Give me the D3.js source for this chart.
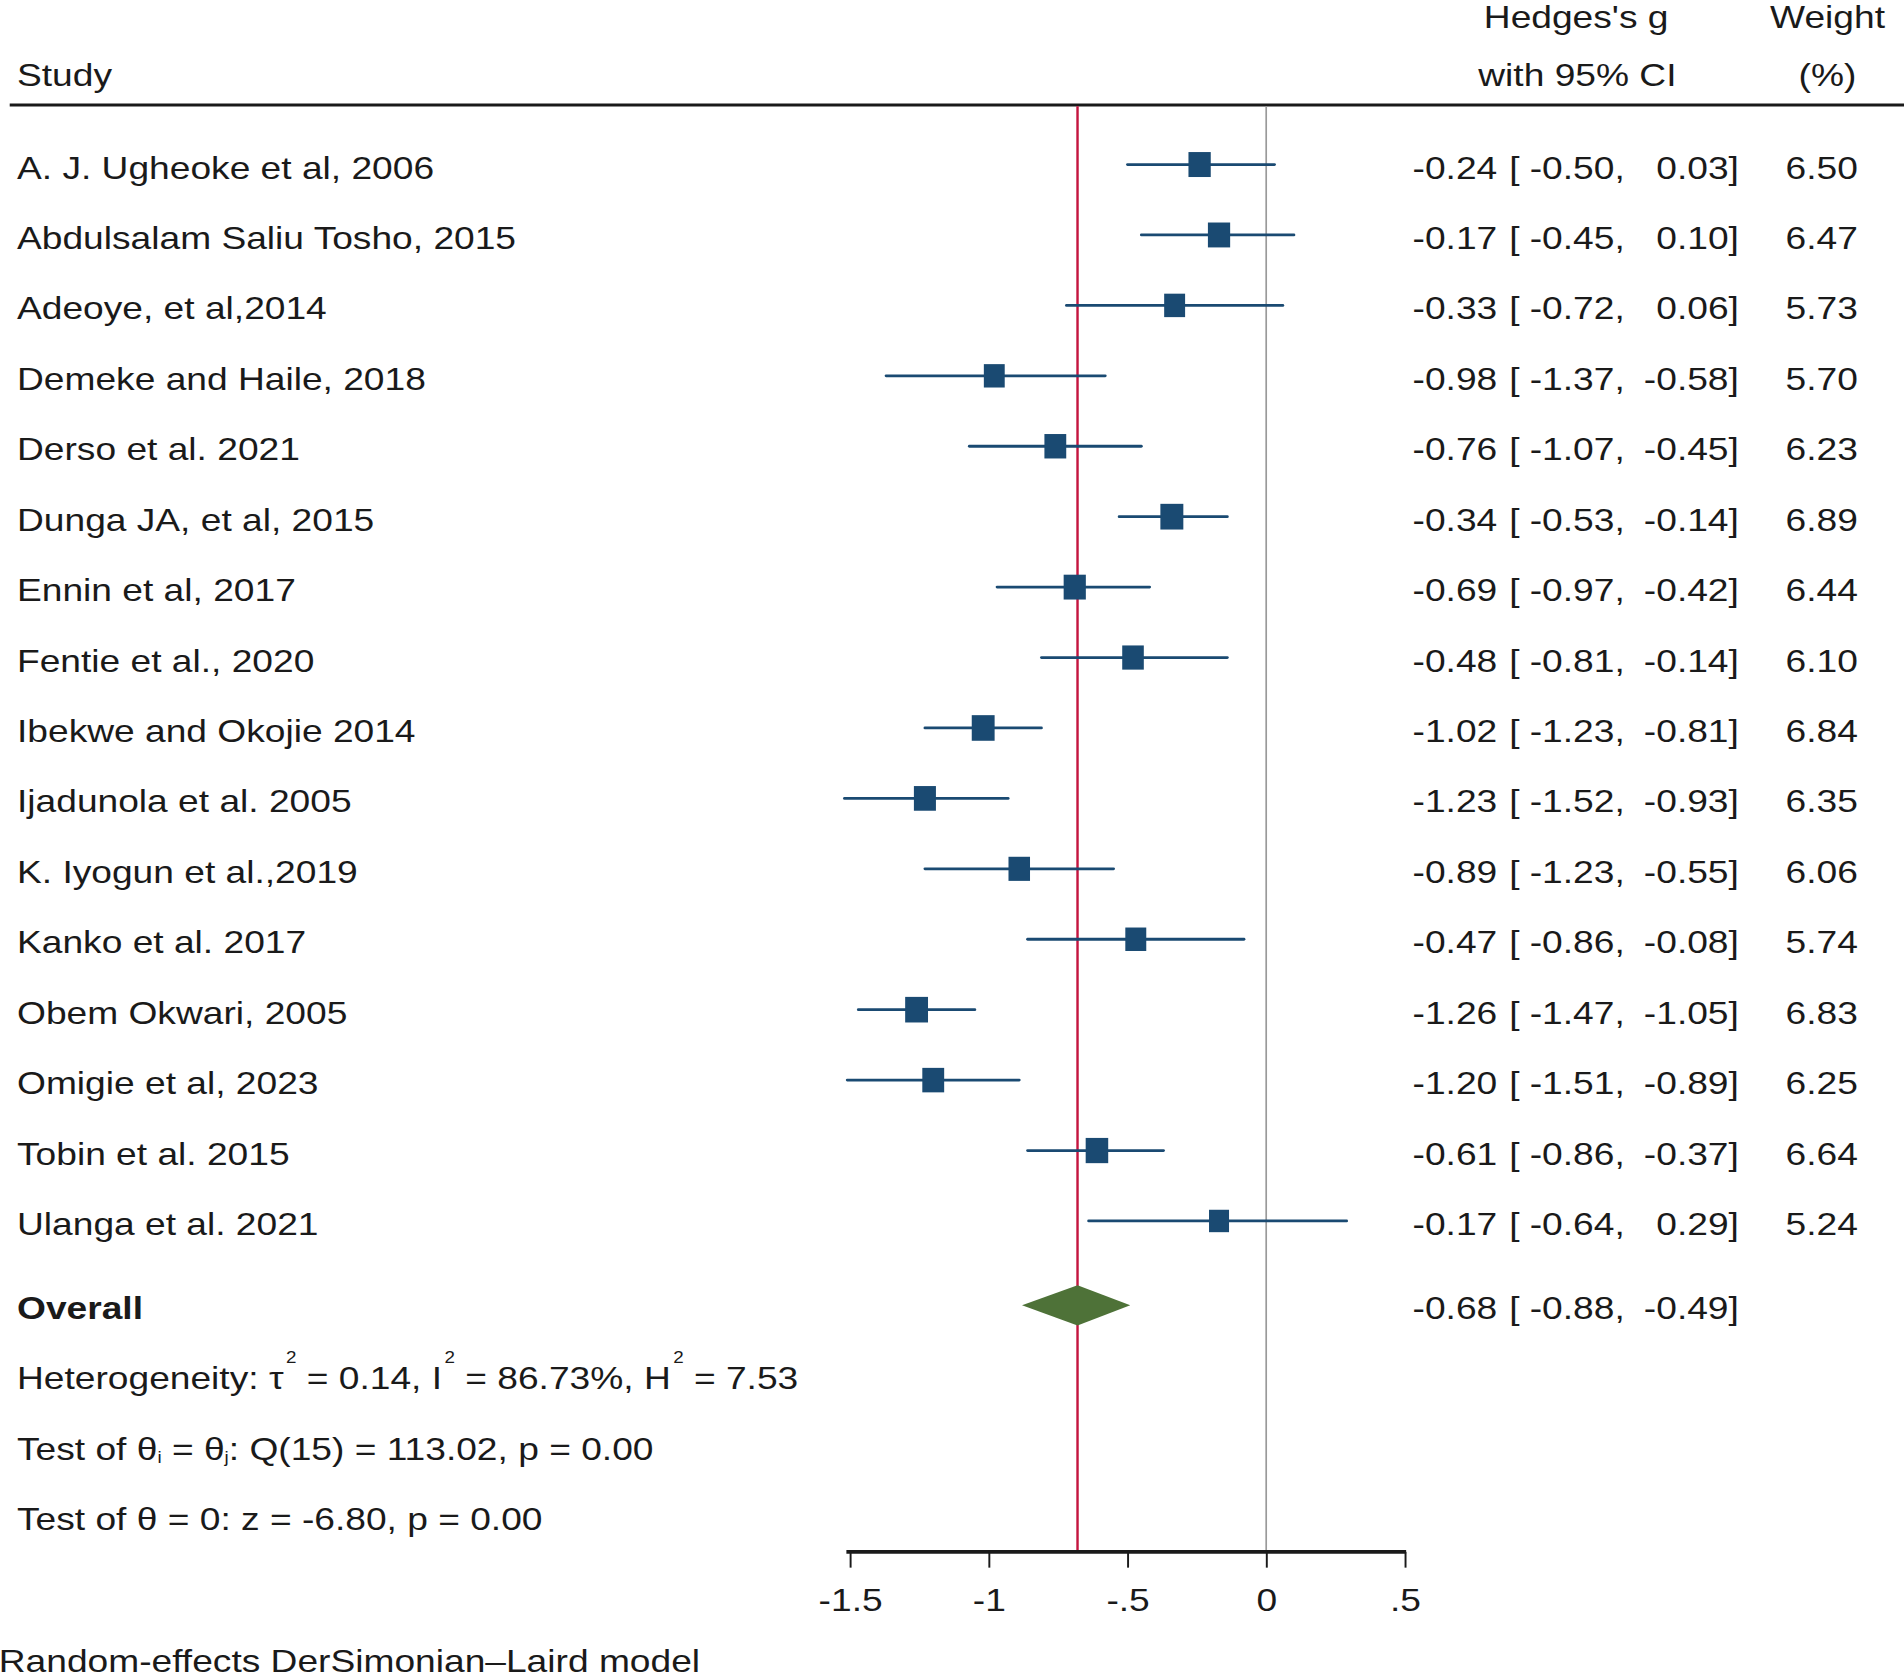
<!DOCTYPE html>
<html><head><meta charset="utf-8">
<script src="https://cdn.jsdelivr.net/npm/d3@7"></script>
<style>
body{margin:0;background:#fff;}
svg{display:block;}
text{font-family:"Liberation Sans",Arial,Helvetica,sans-serif;fill:#1a1a1a;}
</style>
</head><body><svg id="chart"></svg>
<script>
// ---------- data ----------
const studies = [
  "A. J. Ugheoke et al, 2006",
  "Abdulsalam Saliu Tosho, 2015",
  "Adeoye, et al,2014",
  "Demeke and Haile, 2018",
  "Derso et al. 2021",
  "Dunga JA, et al, 2015",
  "Ennin et al, 2017",
  "Fentie et al., 2020",
  "Ibekwe and Okojie 2014",
  "Ijadunola et al. 2005",
  "K. Iyogun et al.,2019",
  "Kanko et al. 2017",
  "Obem Okwari, 2005",
  "Omigie et al, 2023",
  "Tobin et al. 2015",
  "Ulanga et al. 2021"
];
const estimates = [-0.24,-0.17,-0.33,-0.98,-0.76,-0.34,-0.69,-0.48,-1.02,-1.23,-0.89,-0.47,-1.26,-1.20,-0.61,-0.17];
const lowerCI   = [-0.50,-0.45,-0.72,-1.37,-1.07,-0.53,-0.97,-0.81,-1.23,-1.52,-1.23,-0.86,-1.47,-1.51,-0.86,-0.64];
const upperCI   = [ 0.03, 0.10, 0.06,-0.58,-0.45,-0.14,-0.42,-0.14,-0.81,-0.93,-0.55,-0.08,-1.05,-0.89,-0.37, 0.29];
const weights   = [6.50,6.47,5.73,5.70,6.23,6.89,6.44,6.10,6.84,6.35,6.06,5.74,6.83,6.25,6.64,5.24];
const overallLabel = "Overall";
const overallEst = -0.68, overallLo = -0.88, overallHi = -0.49;
const tickValues = [-1.5,-1,-0.5,0,0.5];
const tickLabels = ["-1.5","-1","-.5","0",".5"];
const headerEffect = ["Hedges's g","with 95% CI"];
const headerWeight = ["Weight","(%)"];
const headerStudy = "Study";
const heterogeneity = {tau2:"0.14", I2:"86.73%", H2:"7.53"};
const qTest = {df:15, Q:"113.02", p:"0.00"};
const zTest = {z:"-6.80", p:"0.00"};
const footnote = "Random-effects DerSimonian\u2013Laird model";

// ---------- layout ----------
const VW = 1568, VH = 1382.7;
const FS = 30.6, SY = 0.86;
const NAVY = "#1a4a72", RED = "#c4153f", GREEN = "#4e7238";
const svg = d3.select("#chart").attr("width",1904).attr("height",1679)
  .attr("viewBox",`0 0 ${VW} ${VH}`);

const fmt = d3.formatLocale({decimal:".",thousands:",",grouping:[3],currency:["",""],minus:"-"}).format(".2f");

const x = d3.scaleLinear().domain([-1.5,0.5]).range([700,1157]);
const y = d3.scalePoint().domain(studies).range([135.5,1005.5]);
const overallY = 1075;
const axisY = 1278, topY = 86.5;
const base = 11.5; // baseline offset from row centre

function txt(sel,xp,yp,str,anchor,opts={}){
  const t = sel.append("text")
    .attr("transform",`translate(${xp},${yp}) scale(1,${SY})`)
    .attr("text-anchor",anchor||"start")
    .style("font-size",(opts.size||FS)+"px");
  if(opts.bold) t.style("font-weight","bold");
  if(str!==null) t.text(str);
  return t;
}

// header
txt(svg,14,71,headerStudy,"start");
txt(svg,1298,23,headerEffect[0],"middle");
txt(svg,1299,71,headerEffect[1],"middle");
txt(svg,1505,23,headerWeight[0],"middle");
txt(svg,1505,71,headerWeight[1],"middle");
svg.append("line").attr("x1",8).attr("x2",VW).attr("y1",topY).attr("y2",topY)
  .attr("stroke","#1a1a1a").attr("stroke-width",2.6);

// reference lines
svg.append("line").attr("x1",x(0)).attr("x2",x(0)).attr("y1",topY+1).attr("y2",axisY)
  .attr("stroke","#9a9a9a").attr("stroke-width",1.4);
svg.append("line").attr("x1",x(overallEst)).attr("x2",x(overallEst)).attr("y1",topY+1).attr("y2",axisY)
  .attr("stroke",RED).attr("stroke-width",2);

// study rows
const rows = svg.append("g").selectAll("g").data(studies).join("g");
rows.append("line")
  .attr("x1",(d,i)=>x(lowerCI[i])).attr("x2",(d,i)=>x(upperCI[i]))
  .attr("y1",d=>y(d)).attr("y2",d=>y(d))
  .attr("stroke",NAVY).attr("stroke-width",2.3).attr("stroke-linecap","round");
const sz = w => 7.2*Math.sqrt(w);
rows.append("rect")
  .attr("x",(d,i)=>x(estimates[i])-sz(weights[i])/2)
  .attr("y",(d,i)=>y(d)-sz(weights[i])*1.12/2)
  .attr("width",(d,i)=>sz(weights[i]))
  .attr("height",(d,i)=>sz(weights[i])*1.12)
  .attr("fill",NAVY);

rows.each(function(d,i){
  const g = d3.select(this), yy = y(d)+base;
  txt(g,14,yy,d,"start");
  txt(g,1233,yy,fmt(estimates[i]),"end");
  txt(g,1243,yy,"[","start");
  txt(g,1338,yy,fmt(lowerCI[i])+",","end");
  txt(g,1432,yy,fmt(upperCI[i])+"]","end");
  txt(g,1530,yy,fmt(weights[i]),"end");
});

// overall
const dh = 33;
svg.append("path")
  .attr("d",`M${x(overallLo)},${overallY} L${x(overallEst)},${overallY-dh/2} L${x(overallHi)},${overallY} L${x(overallEst)},${overallY+dh/2} Z`)
  .attr("fill",GREEN);
txt(svg,14,overallY+base,overallLabel,"start",{bold:true});
txt(svg,1233,overallY+base,fmt(overallEst),"end");
txt(svg,1243,overallY+base,"[","start");
txt(svg,1338,overallY+base,fmt(overallLo)+",","end");
txt(svg,1432,overallY+base,fmt(overallHi)+"]","end");

// heterogeneity & tests
const SUP = 15.5;
let h = txt(svg,14,1144,null,"start");
h.append("tspan").text("Heterogeneity: \u03c4");
h.append("tspan").attr("dy",-25).attr("dx",2).style("font-size",SUP+"px").text("2");
h.append("tspan").attr("dy",25).text(` = ${heterogeneity.tau2}, I`);
h.append("tspan").attr("dy",-25).attr("dx",2).style("font-size",SUP+"px").text("2");
h.append("tspan").attr("dy",25).text(` = ${heterogeneity.I2}, H`);
h.append("tspan").attr("dy",-25).attr("dx",2).style("font-size",SUP+"px").text("2");
h.append("tspan").attr("dy",25).text(` = ${heterogeneity.H2}`);

let q = txt(svg,14,1202,null,"start");
q.append("tspan").text("Test of \u03b8");
q.append("tspan").attr("dy",3).style("font-size",SUP+"px").text("i");
q.append("tspan").attr("dy",-3).text(" = \u03b8");
q.append("tspan").attr("dy",3).style("font-size",SUP+"px").text("j");
q.append("tspan").attr("dy",-3).text(`: Q(${qTest.df}) = ${qTest.Q}, p = ${qTest.p}`);

txt(svg,14,1260,`Test of \u03b8 = 0: z = ${zTest.z}, p = ${zTest.p}`,"start");

// axis
const axis = d3.axisBottom(x).tickValues(tickValues)
  .tickFormat((d,i)=>tickLabels[i]).tickSize(13).tickSizeOuter(0);
const ag = svg.append("g").attr("transform",`translate(0,${axisY})`).call(axis);
ag.select(".domain").attr("stroke","#1a1a1a").attr("stroke-width",3)
  .attr("d",`M${x(-1.513)},0H${x(0.5)+1}`);
ag.selectAll(".tick line").attr("stroke","#1a1a1a").attr("stroke-width",1.6);
ag.selectAll(".tick text")
  .attr("y",null).attr("dy",null)
  .attr("transform",`translate(0,49) scale(1,${SY})`)
  .attr("fill","#1a1a1a")
  .style("font-size",FS+"px")
  .style("font-family",'"Liberation Sans",Arial,sans-serif');

// footnote
txt(svg,-1,1377,footnote,"start");
</script>
</body></html>
